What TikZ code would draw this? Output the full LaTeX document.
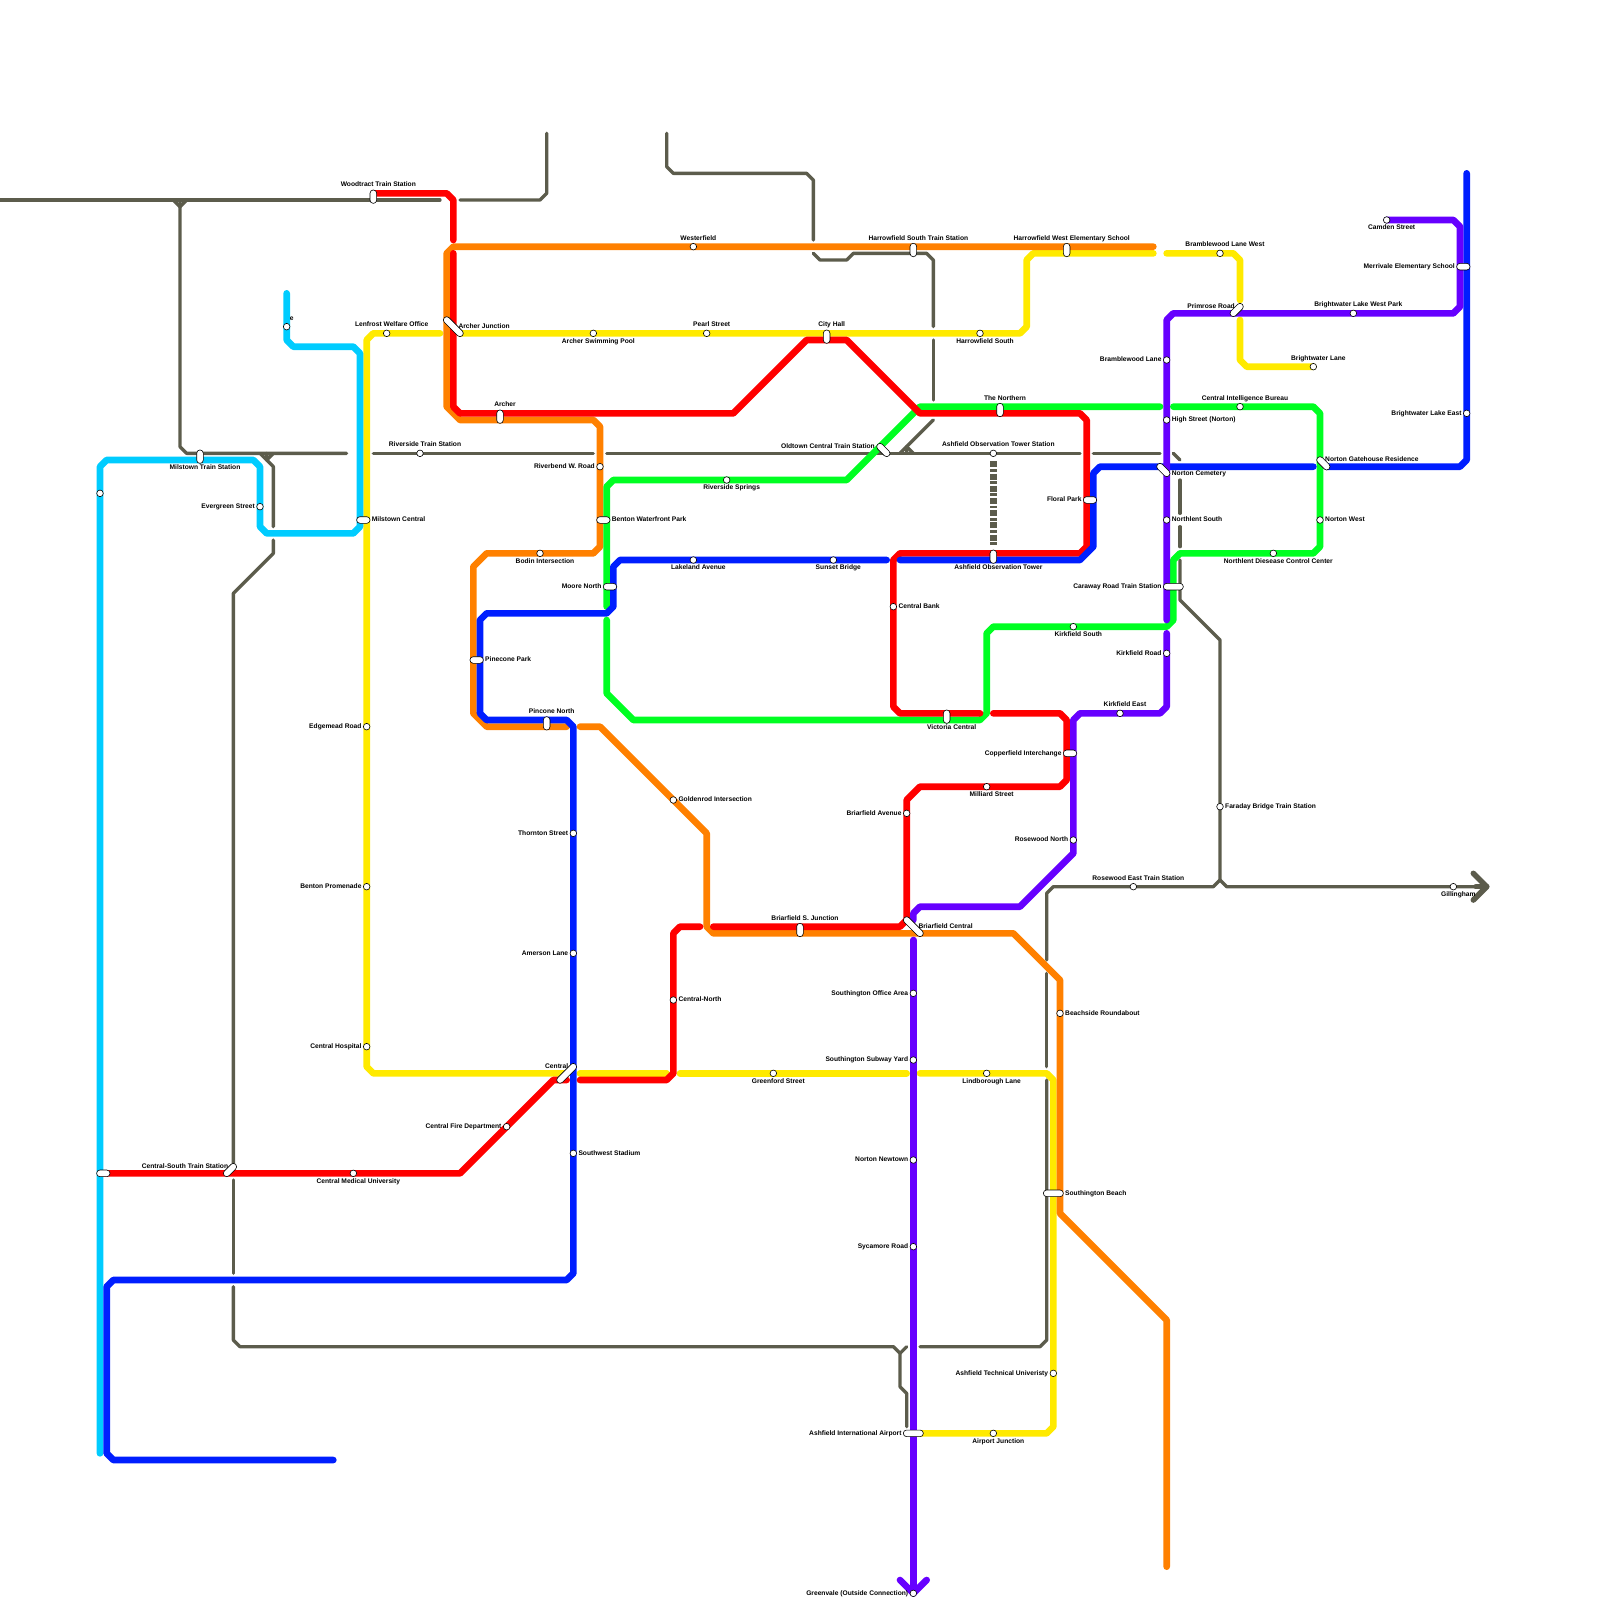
\documentclass[tikz,border=0pt]{standalone}
\usepackage{fontspec}
\setmainfont{Liberation Sans}
\usetikzlibrary{backgrounds}
\definecolor{metrored}{RGB}{255, 0, 0}
\definecolor{metroorange}{RGB}{255, 128, 0}
\definecolor{metroyellow}{RGB}{255, 234, 0}
\definecolor{metrogreen}{RGB}{0, 255, 34}
\definecolor{metrocyan}{RGB}{0, 204, 255}
\definecolor{metroblue}{RGB}{0, 30, 255}
\definecolor{metropurple}{RGB}{102, 0, 255}
\definecolor{metrogray}{RGB}{92, 92, 76}
\newcommand{\stn}[4]{\node[stop] (#1) at (#2) {}; \node[#3] (#1-tag) at (#2) {#4};}
\newcommand{\hub}[7]{\node[hubbox, minimum width=#3pt, rotate=#4] (#1) at (#2) {}; \node[#6] (#1-tag) at (#5) {#7};}

\begin{document}
\begin{tikzpicture}[x=6.6667pt, y=-6.6667pt,
  stop/.style={circle, draw=black, line width=0.6pt, fill=white, minimum size=6.6pt, inner sep=0pt},
  hubbox/.style={rectangle, draw=black, line width=0.6pt, fill=white, rounded corners=3.2pt, minimum height=6.6pt, inner sep=0pt},
  tagtext/.style={inner sep=0pt, font=\fontsize{6.667}{7}\selectfont\bfseries},
  tagN/.style={tagtext, anchor=base, xshift=5pt, yshift=6.6pt},
  tagS/.style={tagtext, anchor=base, xshift=5pt, yshift=-9.7pt},
  tagE/.style={tagtext, anchor=base west, xshift=5pt, yshift=-1.9pt},
  tagW/.style={tagtext, anchor=base east, xshift=-5pt, yshift=-1.9pt},
  route/.style={line width=6.6667pt, line cap=round, line join=round},
  redline/.style={route, draw=metrored},
  orangeline/.style={route, draw=metroorange},
  yellowline/.style={route, draw=metroyellow},
  greenline/.style={route, draw=metrogreen},
  cyanline/.style={route, draw=metrocyan},
  blueline/.style={route, draw=metroblue},
  purpleline/.style={route, draw=metropurple},
  grayline/.style={draw=metrogray, line width=3.3333pt, line cap=round, line join=round},
  grayhead/.style={draw=metrogray, line width=5.6pt, line cap=round, line join=round},
  grayband/.style={draw=metrogray, line width=6.6667pt, dash pattern=on 6pt off 1.7pt on 2.7pt off 1.8pt}
]
\useasboundingbox (0,0) rectangle (240,240);

% stations, left to right
\node[stop] (cyanstop) at (15,74) {};
\node[hubbox, minimum width=13.4pt] (cyanred) at (15.5,176) {};
\hub{woodtract}{56,29.5}{13.4}{90}{56,29}{tagN}{Woodtract Train Station}
\stn{ewest}{43,49}{tagN}{e}
\stn{lenfrost}{58,50}{tagN}{Lenfrost Welfare Office}
\hub{archerjct}{68,49}{25.4}{-45}{68,49}{tagE}{Archer Junction}
\hub{archer}{75,62.5}{13.4}{90}{75,62}{tagN}{Archer}
\stn{riverside}{63,68}{tagN}{Riverside Train Station}
\hub{milstowntr}{30,68.5}{13.4}{90}{30,69}{tagS}{Milstown Train Station}
\stn{evergreen}{39,76}{tagW}{Evergreen Street}
\hub{milstownc}{54.5,78}{13.4}{0}{55,78}{tagE}{Milstown Central}
\hub{centralsouth}{34.5,175.5}{16}{45}{35,175}{tagW}{Central-South Train Station}
\stn{medical}{53,176}{tagS}{Central Medical University}
\stn{fire}{76,169}{tagW}{Central Fire Department}
\stn{bodin}{81,83}{tagS}{Bodin Intersection}
\hub{pineconepk}{71.5,99}{13.4}{0}{72,99}{tagE}{Pinecone Park}
\hub{pinconen}{82,108.5}{13.4}{90}{82,108}{tagN}{Pincone North}
\stn{edgemead}{55,109}{tagW}{Edgemead Road}
\stn{promenade}{55,133}{tagW}{Benton Promenade}
\stn{hospital}{55,157}{tagW}{Central Hospital}
\stn{swimming}{89,50}{tagS}{Archer Swimming Pool}
\stn{riverbend}{90,70}{tagW}{Riverbend W. Road}
\hub{benton}{90.5,78}{13.4}{0}{91,78}{tagE}{Benton Waterfront Park}
\hub{moore}{91.5,88}{13.4}{0}{91,88}{tagW}{Moore North}
\stn{thornton}{86,125}{tagW}{Thornton Street}
\stn{amerson}{86,143}{tagW}{Amerson Lane}
\hub{central}{85,161}{25.4}{45}{86,160}{tagW}{Central}
\stn{southwest}{86,173}{tagE}{Southwest Stadium}
\stn{goldenrod}{101,120}{tagE}{Goldenrod Intersection}
\stn{centralnorth}{101,150}{tagE}{Central-North}
\stn{westerfield}{104,37}{tagN}{Westerfield}
\stn{pearl}{106,50}{tagN}{Pearl Street}
\stn{lakeland}{104,84}{tagS}{Lakeland Avenue}
\stn{springs}{109,72}{tagS}{Riverside Springs}
\stn{greenford}{116,161}{tagS}{Greenford Street}
\hub{briarjct}{120,139.5}{13.4}{90}{120,139}{tagN}{Briarfield S. Junction}
\hub{cityhall}{124,50.5}{13.4}{90}{124,50}{tagN}{City Hall}
\stn{sunset}{125,84}{tagS}{Sunset Bridge}
\hub{oldtown}{132.5,67.5}{16}{-45}{132,67}{tagW}{Oldtown Central Train Station}
\stn{centralbank}{134,91}{tagE}{Central Bank}
\stn{briarave}{136,122}{tagW}{Briarfield Avenue}
\hub{harrowsouthtr}{137,37.5}{13.4}{90}{137,37}{tagN}{Harrowfield South Train Station}
\hub{briarcentral}{137,139}{25.4}{-45}{137,139}{tagE}{Briarfield Central}
\stn{officearea}{137,149}{tagW}{Southington Office Area}
\stn{subwayyard}{137,159}{tagW}{Southington Subway Yard}
\stn{newtown}{137,174}{tagW}{Norton Newtown}
\stn{sycamore}{137,187}{tagW}{Sycamore Road}
\hub{airport}{137,215}{20}{0}{136,215}{tagW}{Ashfield International Airport}
\stn{greenvale}{137,239}{tagW}{Greenvale (Outside Connection)}
\hub{victoria}{142,107.5}{13.4}{90}{142,108}{tagS}{Victoria Central}
\stn{harrowsouth}{147,50}{tagS}{Harrowfield South}
\stn{milliard}{148,118}{tagS}{Milliard Street}
\stn{lindborough}{148,161}{tagS}{Lindborough Lane}
\stn{towerst}{149,68}{tagN}{Ashfield Observation Tower Station}
\hub{tower}{149,83.5}{13.4}{90}{149,84}{tagS}{Ashfield Observation Tower}
\stn{airportjct}{149,215}{tagS}{Airport Junction}
\hub{northern}{150,61.5}{13.4}{90}{150,61}{tagN}{The Northern}
\hub{southbeach}{158,179}{20}{0}{159,179}{tagE}{Southington Beach}
\stn{technical}{158,206}{tagW}{Ashfield Technical Univeristy}
\stn{beachside}{159,152}{tagE}{Beachside Roundabout}
\hub{harrowwest}{160,37.5}{13.4}{90}{160,37}{tagN}{Harrowfield West Elementary School}
\hub{copperfield}{160.5,113}{13.4}{0}{160,113}{tagW}{Copperfield Interchange}
\stn{kirksouth}{161,94}{tagS}{Kirkfield South}
\stn{rosewoodn}{161,126}{tagW}{Rosewood North}
\hub{floral}{163.5,75}{13.4}{0}{163,75}{tagW}{Floral Park}
\stn{kirkeast}{168,107}{tagN}{Kirkfield East}
\stn{rosewoode}{170,133}{tagN}{Rosewood East Train Station}
\stn{bramble}{175,54}{tagW}{Bramblewood Lane}
\stn{highst}{175,63}{tagE}{High Street (Norton)}
\hub{cemetery}{174.5,70.5}{16}{-45}{175,71}{tagE}{Norton Cemetery}
\stn{northlent}{175,78}{tagE}{Northlent South}
\hub{caraway}{176,88}{20}{0}{175,88}{tagW}{Caraway Road Train Station}
\stn{kirkroad}{175,98}{tagW}{Kirkfield Road}
\stn{faraday}{183,121}{tagE}{Faraday Bridge Train Station}
\stn{bramblewest}{183,38}{tagN}{Bramblewood Lane West}
\hub{primrose}{185.5,46.5}{16}{45}{186,46}{tagW}{Primrose Road}
\stn{bureau}{186,61}{tagN}{Central Intelligence Bureau}
\stn{diesease}{191,83}{tagS}{Northlent Diesease Control Center}
\stn{brightlane}{197,55}{tagN}{Brightwater Lane}
\hub{gatehouse}{198.5,69.5}{16}{-45}{198,69}{tagE}{Norton Gatehouse Residence}
\stn{nortonw}{198,78}{tagE}{Norton West}
\stn{brightwest}{203,47}{tagN}{Brightwater Lake West Park}
\stn{camden}{208,33}{tagS}{Camden Street}
\stn{gillingham}{218,133}{tagS}{Gillingham}
\hub{merrivale}{219.5,40}{13.4}{0}{219,40}{tagW}{Merrivale Elementary School}
\stn{brighteast}{220,62}{tagW}{Brightwater Lake East}

\begin{scope}[on background layer]
% gray network
\draw[grayline] (0,30) -- (66,30);
\draw[grayline] (69,30) -- (81,30) -- (82,29) -- (82,20);
\draw[grayline] (26,30) -- (27,31) -- (28,30);
\draw[grayline] (27,30) -- (27,67) -- (28,68) -- (52,68);
\draw[grayline] (56,68) -- (89,68);
\draw[grayline] (91,68) -- (162,68);
\draw[grayline] (164,68) -- (174,68);
\draw[grayline] (176,68) -- (177,69);
\draw[grayline] (39,68) -- (40,69) -- (41,70) -- (41,79);
\draw[grayline] (41,68) -- (40,69) -- (40,68);
\draw[grayline] (41,81) -- (41,83) -- (35,89) -- (35,175);
\draw[grayline] (35,177) -- (35,191);
\draw[grayline] (35,193) -- (35,201) -- (36,202) -- (134,202) -- (135,203) -- (135,208) -- (136,209) -- (136,214);
\draw[grayline] (135,203) -- (136,202);
\draw[grayline] (138,202) -- (156,202) -- (157,201) -- (157,162);
\draw[grayline] (157,160) -- (157,146);
\draw[grayline] (157,144) -- (157,134) -- (158,133) -- (182,133) -- (183,132) -- (184,133) -- (223,133);
\draw[grayhead] (221,131) -- (223,133) -- (221,135);
\draw[grayhead] (221.4,133) -- (223,133);
\draw[grayline] (183,132) -- (183,96) -- (177,90) -- (177,84);
\draw[grayline] (177,82) -- (177,79);
\draw[grayline] (177,77) -- (177,72);
\draw[grayline] (135,68) -- (136,67) -- (137,68);
\draw[grayline] (136,68) -- (136,67) -- (140,63);
\draw[grayline] (140,60) -- (140,51);
\draw[grayline] (140,49) -- (140,39) -- (139,38) -- (128,38) -- (127,39) -- (123,39) -- (122,38);
\draw[grayline] (122,36) -- (122,27) -- (121,26) -- (101,26) -- (100,25) -- (100,20);
\draw[grayband] (149,69.2) -- (149,82);
% yellow
\draw[yellowline] (66,50) -- (56,50) -- (55,51) -- (55,160) -- (56,161) -- (85,161);
\draw[yellowline] (69,50) -- (153,50) -- (154,49) -- (154,39) -- (155,38) -- (173,38);
\draw[yellowline] (175,38) -- (185,38) -- (186,39) -- (186,45);
\draw[yellowline] (186,48) -- (186,54) -- (187,55) -- (brightlane.center);
\draw[yellowline] (87,161) -- (100,161);
\draw[yellowline] (102,161) -- (136,161);
\draw[yellowline] (138,161) -- (157,161) -- (158,162) -- (158,214) -- (157,215) -- (airport.center);
% cyan
\draw[cyanline] (43,44) -- (43,51) -- (44,52) -- (53,52) -- (54,53) -- (54,79) -- (53,80) -- (40,80) -- (39,79) -- (39,70) -- (38,69) -- (16,69) -- (15,70) -- (15,218);
% orange
\draw[orangeline] (173,37) -- (68,37) -- (67,38) -- (67,61) -- (69,63) -- (89,63) -- (90,64) -- (90,82) -- (89,83) -- (73,83) -- (71,85) -- (71,107) -- (73,109) -- (85,109);
\draw[orangeline] (87,109) -- (90,109) -- (106,125) -- (106,139) -- (107,140) -- (152,140) -- (159,147) -- (159,182) -- (175,198) -- (175,235);
% green
\draw[greenline] (91,91) -- (91,73) -- (92,72) -- (127,72) -- (138,61) -- (174,61);
\draw[greenline] (176,61) -- (197,61) -- (198,62) -- (198,82) -- (197,83) -- (177,83) -- (176,84) -- (176,93) -- (175,94) -- (149,94) -- (148,95) -- (148,107) -- (147,108) -- (95,108) -- (91,104) -- (91,93);
% red
\draw[redline] (56,29) -- (67,29) -- (68,30) -- (68,36);
\draw[redline] (68,38) -- (68,61) -- (69,62) -- (110,62) -- (121,51) -- (127,51) -- (138,62) -- (162,62) -- (163,63) -- (163,82) -- (162,83) -- (135,83) -- (134,84) -- (134,106) -- (135,107) -- (147,107);
\draw[redline] (149,107) -- (159,107) -- (160,108) -- (160,117) -- (159,118) -- (138,118) -- (136,120) -- (136,138) -- (135,139) -- (107,139);
\draw[redline] (105,139) -- (102,139) -- (101,140) -- (101,161) -- (100,162) -- (87,162);
\draw[redline] (85,162) -- (83,162) -- (69,176) -- (cyanred.center);
% blue
\draw[blueline] (50,219) -- (17,219) -- (16,218) -- (16,193) -- (17,192) -- (85,192) -- (86,191) -- (86,109) -- (85,108) -- (73,108) -- (72,107) -- (72,93) -- (73,92) -- (91,92) -- (92,91) -- (92,85) -- (93,84) -- (133,84);
\draw[blueline] (135,84) -- (162,84) -- (164,82) -- (164,71) -- (165,70) -- (197,70);
\draw[blueline] (199,70) -- (219,70) -- (220,69) -- (220,26);
% purple
\draw[purpleline] (camden.center) -- (218,33) -- (219,34) -- (219,46) -- (218,47) -- (176,47) -- (175,48) -- (175,93);
\draw[purpleline] (175,95) -- (175,106) -- (174,107) -- (162,107) -- (161,108) -- (161,128) -- (153,136) -- (138,136) -- (137,137) -- (137,138);
\draw[purpleline] (137,141) -- (greenvale.center);
\draw[purpleline] (135,237) -- (137,239) -- (139,237);
\end{scope}
\end{tikzpicture}
\end{document}
